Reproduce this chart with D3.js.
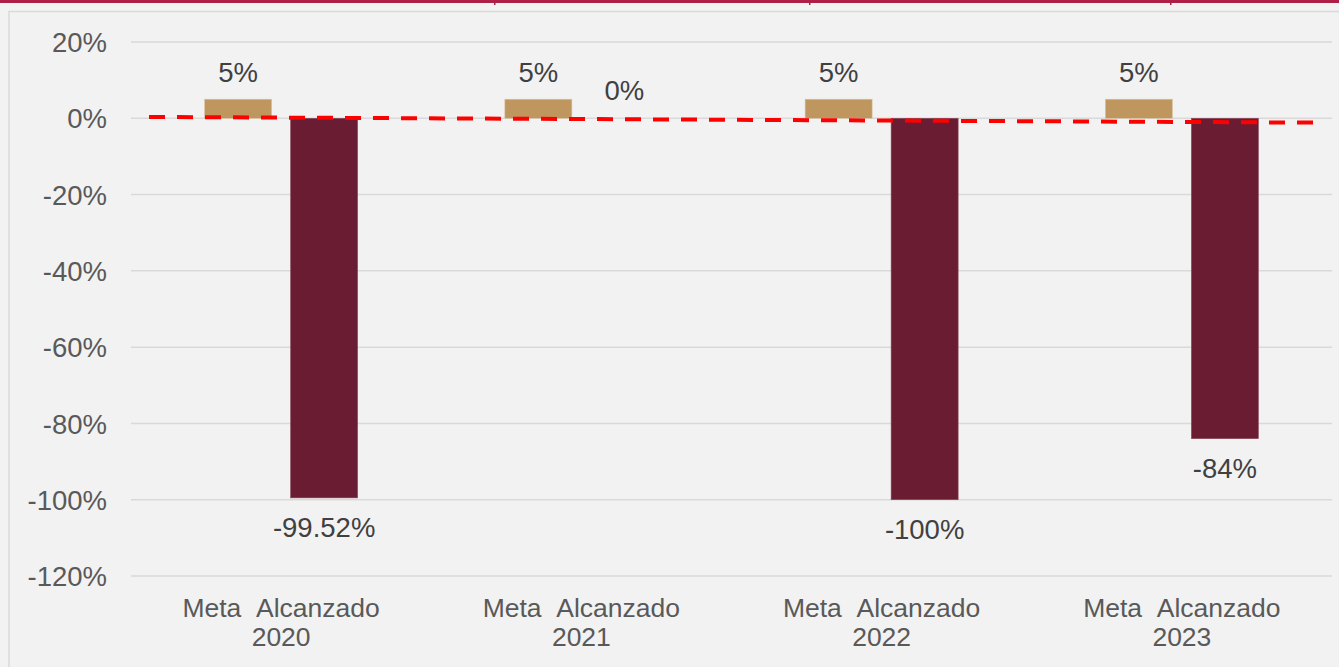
<!DOCTYPE html>
<html><head><meta charset="utf-8">
<script src="https://cdn.jsdelivr.net/npm/d3@7"></script>
<style>html,body{margin:0;padding:0;background:#f2f2f2;overflow:hidden}svg{display:block;font-family:Arial,"Liberation Sans",sans-serif}</style>
</head><body>
<svg id="c" width="1339" height="667"></svg>
<script>
const years = ["2020","2021","2022","2023"];
const series = ["Meta","Alcanzado"];
const metaValues = [0.05,0.05,0.05,0.05];
const alcanzadoValues = [-0.9952,0,-1.0,-0.84];
const metaLabels = ["5%","5%","5%","5%"];
const alcanzadoLabels = ["-99.52%","0%","-100%","-84%"];
const yTicks = [0.2,0,-0.2,-0.4,-0.6,-0.8,-1.0,-1.2];
const trendIndex = [-0.44, 3.44];
const trendValues = [0.0035, -0.0113];

const colors = {Meta:"#be965e", Alcanzado:"#6a1c32"};
const svg = d3.select("#c");
const W=1339,H=667;
svg.append("rect").attr("width",W).attr("height",H).attr("fill","#f2f2f2");
svg.append("rect").attr("x",0).attr("y",0).attr("width",W).attr("height",3).attr("fill","#ad1f47");
[494,809,1170].forEach(x=>svg.append("rect").attr("x",x).attr("y",0).attr("width",1.5).attr("height",5).attr("fill","#ad1f47"));
svg.append("rect").attr("x",9).attr("y",11.5).attr("width",W).attr("height",H).attr("fill","none").attr("stroke","#d9d9d9").attr("stroke-width",1.5);

const left=131,right=1332;
const x = d3.scaleBand().domain(years).range([left,right]).padding(0);
const xi = d3.scaleLinear().domain([-0.5,3.5]).range([left,right]);
const xs = d3.scaleBand().domain(series).range([0,x.bandwidth()]).paddingInner(19/86).paddingOuter(0.856);
const y = d3.scaleLinear().domain([-1.2,0.2]).range([576,42]);
const fmt = d => d3.format(".0%")(d).replace("−","-");

const yAxis = d3.axisLeft(y).tickValues(yTicks).tickFormat(fmt).tickSize(0).tickPadding(0);
const ga = svg.append("g").attr("transform",`translate(107,0)`).call(yAxis);
ga.select(".domain").remove();
ga.selectAll("text").attr("font-size",27.5).attr("fill","#595959").attr("font-family","Arial, 'Liberation Sans', sans-serif").attr("dy","0.35em");
svg.append("g").selectAll("line").data(yTicks).join("line")
  .attr("x1",left).attr("x2",right).attr("y1",d=>y(d)).attr("y2",d=>y(d))
  .attr("stroke","#d9d9d9").attr("stroke-width",1.5);

const rows = years.map((yr,i)=>({yr, Meta:metaValues[i], Alcanzado:alcanzadoValues[i], ml:metaLabels[i], al:alcanzadoLabels[i]}));
const g = svg.append("g");
rows.forEach(r=>{
  series.forEach(s=>{
    const v=r[s];
    if(v===0) return;
    g.append("rect").attr("x",x(r.yr)+xs(s)).attr("width",xs.bandwidth())
      .attr("y",Math.min(y(v),y(0))).attr("height",Math.abs(y(v)-y(0)))
      .attr("fill",colors[s]).attr("stroke",s==="Meta"?"#d9c4a5":"#8a4a5c").attr("stroke-width",0.6);
  });
});
svg.append("line").attr("x1",xi(trendIndex[0])).attr("x2",xi(trendIndex[1]))
  .attr("y1",y(trendValues[0])).attr("y2",y(trendValues[1]))
  .attr("stroke","#ff0000").attr("stroke-width",4).attr("stroke-dasharray","16,12");
rows.forEach(r=>{
  const mx = x(r.yr)+xs("Meta")+xs.bandwidth()/2;
  const ax = x(r.yr)+xs("Alcanzado")+xs.bandwidth()/2;
  svg.append("text").attr("x",mx).attr("y",y(r.Meta)-17).attr("text-anchor","middle")
    .attr("font-size",27.5).attr("fill","#404040").text(r.ml);
  const v=r.Alcanzado;
  svg.append("text").attr("x",ax).attr("y",v<0? y(v)+39 : y(v)-18).attr("text-anchor","middle")
    .attr("font-size",27.5).attr("fill","#404040").text(r.al);
});
rows.forEach(r=>{
  const cx = x(r.yr)+x.bandwidth()/2;
  svg.append("text").attr("x",cx).attr("y",617).attr("text-anchor","middle")
    .attr("font-size",26.5).attr("fill","#595959").text(series.join("\u00a0\u00a0"));
  svg.append("text").attr("x",cx).attr("y",646).attr("text-anchor","middle")
    .attr("font-size",26.5).attr("fill","#595959").text(r.yr);
});
</script>
</body></html>
